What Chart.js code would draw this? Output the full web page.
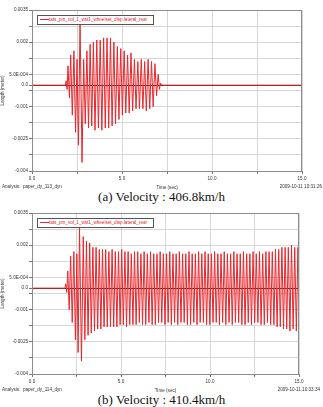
<!DOCTYPE html>
<html>
<head>
<meta charset="utf-8">
<script src="https://cdn.jsdelivr.net/npm/chart.js@4.4.1/dist/chart.umd.min.js"></script>
<style>
  body { margin: 0; background: #fff; width: 323px; height: 407px; overflow: hidden; position: relative; font-family: "Liberation Sans", Arial, sans-serif; }
  canvas { position: absolute; left: 0; }
  .foot { position: absolute; font-size: 4.6px; color: #333; white-space: nowrap; }
  .cap { position: absolute; left: 0; width: 323px; text-align: center; font-family: "Liberation Serif", "Times New Roman", serif; font-size: 13px; color: #111; }
</style>
</head>
<body>
<div class="cap" style="top:189px">(a) Velocity : 406.8km/h</div>
<div class="cap" style="top:392px">(b) Velocity : 410.4km/h</div>
<canvas id="chartA" width="323" height="192" style="top:0"></canvas>
<canvas id="chartB" width="323" height="192" style="top:203px"></canvas>
<div class="foot" style="left:2px;top:184px">Analysis:&nbsp; paper_dy_113_dyn</div>
<div class="foot" style="right:1px;top:184px">2009-10-11 10:31:26</div>
<div class="foot" style="left:2px;top:387px">Analysis:&nbsp; paper_dy_114_dyn</div>
<div class="foot" style="right:3px;top:387px">2009-10-11 10:33:34</div>

<script>
var seriesName = 'tats_pm_vol_1_wst1_wheelset_disp.lateral_rear';

// axis ticks (grid every 0.00075 m, label every 0.0015 m)
var yGrid = [-0.004, -0.00325, -0.0025, -0.00175, -0.001, -0.00025, 0, 0.0005, 0.00125, 0.002, 0.00275, 0.0035];
var yLabels = ['-0.004', '', '-0.0025', '', '-0.001', '', '0.0', '5.0E-004', '', '0.002', '', '0.0035'];
var xGrid = [0, 2.5, 5, 7.5, 10, 12.5, 15];
var xLabels = ['0.0', '', '5.0', '', '10.0', '', '15.0'];

// (a) 406.8 km/h : time (sec) and lateral displacement (m) at the swing peaks
var timeA = [0, 1.85, 1.90, 1.95, 2.00, 2.08, 2.15, 2.24, 2.33, 2.42,
    2.50, 2.58, 2.67, 2.78, 2.87, 2.96, 3.05, 3.14, 3.23, 3.32,
    3.41, 3.50, 3.60, 3.69, 3.79, 3.88, 3.98, 4.07, 4.17, 4.26,
    4.36, 4.45, 4.55, 4.64, 4.74, 4.83, 4.93, 5.02, 5.12, 5.21,
    5.31, 5.40, 5.50, 5.59, 5.69, 5.78, 5.88, 5.97, 6.07, 6.16,
    6.26, 6.35, 6.45, 6.54, 6.64, 6.73, 6.83, 6.92, 7.01, 7.08,
    7.14, 7.20, 15.0];
var dispA = [0, 0, 0.0002, -0.0002, 0.0009, -0.0006, 0.0014, -0.0014, 0.0016, -0.0022,
    0.0012, -0.0028, 0.0030, -0.0036, 0.0012, -0.0018, 0.0016, -0.0020, 0.0019, -0.0019,
    0.0020, -0.0021, 0.0021, -0.0020, 0.0021, -0.0021, 0.0022, -0.0020, 0.0022, -0.0020,
    0.0022, -0.0019, 0.0020, -0.0018, 0.0018, -0.0016, 0.0017, -0.0014, 0.0016, -0.0013,
    0.0014, -0.0013, 0.0015, -0.0012, 0.0012, -0.0011, 0.0011, -0.0011, 0.0012, -0.0011,
    0.0011, -0.0012, 0.0012, -0.0011, 0.0011, -0.0010, 0.0010, -0.0005, 0.0005, -0.0002,
    0.0001, 0, 0];

// (b) 410.4 km/h
var timeB = [0, 1.85, 1.90, 1.95, 2.01, 2.09, 2.17, 2.26, 2.35, 2.44,
    2.52, 2.59, 2.67, 2.78, 2.88, 2.97, 3.06, 3.15, 3.24, 3.33,
    3.42, 3.51,
    3.60, 3.69, 3.78, 3.87, 3.96, 4.05, 4.14, 4.23, 4.32, 4.41,
    4.50, 4.59, 4.68, 4.77, 4.86, 4.95, 5.04, 5.13, 5.22, 5.31,
    5.40, 5.49, 5.58, 5.67, 5.76, 5.85, 5.94, 6.03, 6.12, 6.21,
    6.30, 6.39, 6.48, 6.57, 6.66, 6.75, 6.84, 6.93, 7.02, 7.11,
    7.20, 7.29, 7.38, 7.47, 7.56, 7.65, 7.74, 7.83, 7.92, 8.01,
    8.10, 8.19, 8.28, 8.37, 8.46, 8.55, 8.64, 8.73, 8.82, 8.91,
    9.00, 9.09, 9.18, 9.27, 9.36, 9.45, 9.54, 9.63, 9.72, 9.81,
    9.90, 9.99, 10.08, 10.17, 10.26, 10.35, 10.44, 10.53, 10.62, 10.71,
    10.80, 10.89, 10.98, 11.07, 11.16, 11.25, 11.34, 11.43, 11.52, 11.61,
    11.70, 11.79, 11.88, 11.97, 12.06, 12.15, 12.24, 12.33, 12.42, 12.51,
    12.60, 12.69, 12.78, 12.87, 12.96, 13.05, 13.14, 13.23, 13.32, 13.41,
    13.50, 13.59, 13.68, 13.77, 13.86, 13.95, 14.04, 14.13, 14.22, 14.31,
    14.40, 14.49, 14.58, 14.67, 14.76, 14.85, 14.94, 15.00];
var dispB = [0, 0, 0.0002, -0.0002, 0.0008, -0.0010, 0.0015, -0.0016, 0.0017, -0.0024,
    0.0016, -0.0030, 0.0028, -0.0034, 0.0024, -0.0024, 0.0022, -0.0022, 0.0021, -0.0021,
    0.0019, -0.0020,
    0.0019, -0.0019, 0.0018, -0.0019, 0.0018, -0.0018, 0.0018, -0.0018, 0.0017, -0.0018,
    0.0018, -0.0018, 0.0017, -0.0018, 0.0017, -0.0017, 0.0018, -0.0017, 0.0017, -0.0018,
    0.0017, -0.0017, 0.0016, -0.0017, 0.0017, -0.0017, 0.0017, -0.0016, 0.0016, -0.0017,
    0.0017, -0.0017, 0.0016, -0.0016, 0.0017, -0.0017, 0.0016, -0.0017, 0.0016, -0.0016,
    0.0017, -0.0016, 0.0016, -0.0017, 0.0016, -0.0016, 0.0017, -0.0017, 0.0016, -0.0016,
    0.0016, -0.0017, 0.0017, -0.0016, 0.0016, -0.0016, 0.0016, -0.0017, 0.0017, -0.0017,
    0.0016, -0.0016, 0.0016, -0.0017, 0.0017, -0.0016, 0.0016, -0.0016, 0.0017, -0.0017,
    0.0016, -0.0017, 0.0016, -0.0016, 0.0017, -0.0016, 0.0016, -0.0017, 0.0016, -0.0016,
    0.0017, -0.0017, 0.0016, -0.0016, 0.0016, -0.0017, 0.0017, -0.0016, 0.0016, -0.0016,
    0.0016, -0.0017, 0.0017, -0.0017, 0.0016, -0.0016, 0.0016, -0.0017, 0.0017, -0.0016,
    0.0016, -0.0016, 0.0017, -0.0017, 0.0016, -0.0017, 0.0017, -0.0016, 0.0017, -0.0017,
    0.0017, -0.0017, 0.0018, -0.0018, 0.0018, -0.0018, 0.0019, -0.0019, 0.0019, -0.0019,
    0.0019, -0.0020, 0.0020, -0.0019, 0.0019, -0.0020, 0.0019, -0.0019];

var lineRed = 'rgb(232, 38, 44)';
var tickFont = { family: '"Liberation Sans", Arial, sans-serif', size: 4.6 };

// grey frame round the plot + legend box inside the top left corner
var framePlugin = {
    id: 'framePlugin',
    afterDraw: function (chart) {
        var ctx = chart.ctx;
        var a = chart.chartArea;
        ctx.save();
        ctx.strokeStyle = '#8c8c8c';
        ctx.lineWidth = 1;
        ctx.strokeRect(a.left + 0.5, a.top + 0.5, a.right - a.left - 1, a.bottom - a.top);

        var x = a.left + 5, y = a.top + 5;
        ctx.fillStyle = '#fff';
        ctx.fillRect(x, y, 116, 9);
        ctx.strokeStyle = '#555';
        ctx.strokeRect(x + 0.5, y + 0.5, 116, 9);
        ctx.strokeStyle = lineRed;
        ctx.beginPath();
        ctx.moveTo(x + 3, y + 4.5);
        ctx.lineTo(x + 12, y + 4.5);
        ctx.stroke();
        ctx.fillStyle = lineRed;
        ctx.font = '4.6px "Liberation Sans", Arial, sans-serif';
        ctx.textBaseline = 'middle';
        ctx.fillText(chart.data.datasets[0].label, x + 12, y + 5);
        ctx.restore();
    }
};

function toPoints(times, values) {
    var pts = [];
    for (var i = 0; i < times.length; i++) {
        pts.push({ x: times[i], y: values[i] });
    }
    return pts;
}

function getconfig(times, values, rightPad) {
    return {
        type: 'line',
        data: {
            datasets: [{
                label: seriesName,
                data: toPoints(times, values),
                borderColor: lineRed,
                borderWidth: 1,
                pointRadius: 0,
                tension: 0,
                fill: false
            }]
        },
        options: {
            responsive: false,
            animation: false,
            events: [],
            layout: { padding: { top: 10, right: rightPad, left: 0, bottom: 0 } },
            plugins: { legend: { display: false }, tooltip: { enabled: false } },
            scales: {
                x: {
                    type: 'linear',
                    min: 0,
                    max: 15,
                    afterBuildTicks: function (scale) {
                        scale.ticks = xGrid.map(function (v) { return { value: v }; });
                    },
                    afterFit: function (scale) { scale.height = 21; },
                    ticks: {
                        autoSkip: false,
                        maxRotation: 0,
                        padding: 2,
                        color: '#333',
                        font: tickFont,
                        callback: function (v, i) { return xLabels[i]; }
                    },
                    grid: { color: '#d6d6d6', lineWidth: 1, tickLength: 3, tickColor: '#777' },
                    border: { color: '#8c8c8c' },
                    title: {
                        display: true,
                        text: 'Time (sec)',
                        color: '#333',
                        font: tickFont,
                        padding: { top: 0, bottom: 2 }
                    }
                },
                y: {
                    min: -0.004,
                    max: 0.0035,
                    afterBuildTicks: function (scale) {
                        scale.ticks = yGrid.map(function (v) { return { value: v }; });
                    },
                    afterFit: function (scale) { scale.width = 32; },
                    ticks: {
                        autoSkip: false,
                        padding: 1,
                        color: '#333',
                        font: tickFont,
                        callback: function (v, i) { return yLabels[i]; }
                    },
                    grid: {
                        color: function (c) { return c.tick && c.tick.value === 0 ? '#4a2a2a' : '#d6d6d6'; },
                        lineWidth: 1,
                        tickLength: 3,
                        tickColor: '#777'
                    },
                    border: { color: '#8c8c8c' },
                    title: {
                        display: true,
                        text: 'Length (meter)',
                        color: '#333',
                        font: tickFont,
                        padding: 0
                    }
                }
            }
        },
        plugins: [framePlugin]
    };
}

window.onload = function () {
    new Chart(document.getElementById('chartA').getContext('2d'), getconfig(timeA, dispA, 21));
    new Chart(document.getElementById('chartB').getContext('2d'), getconfig(timeB, dispB, 24));
};
</script>
</body>
</html>
